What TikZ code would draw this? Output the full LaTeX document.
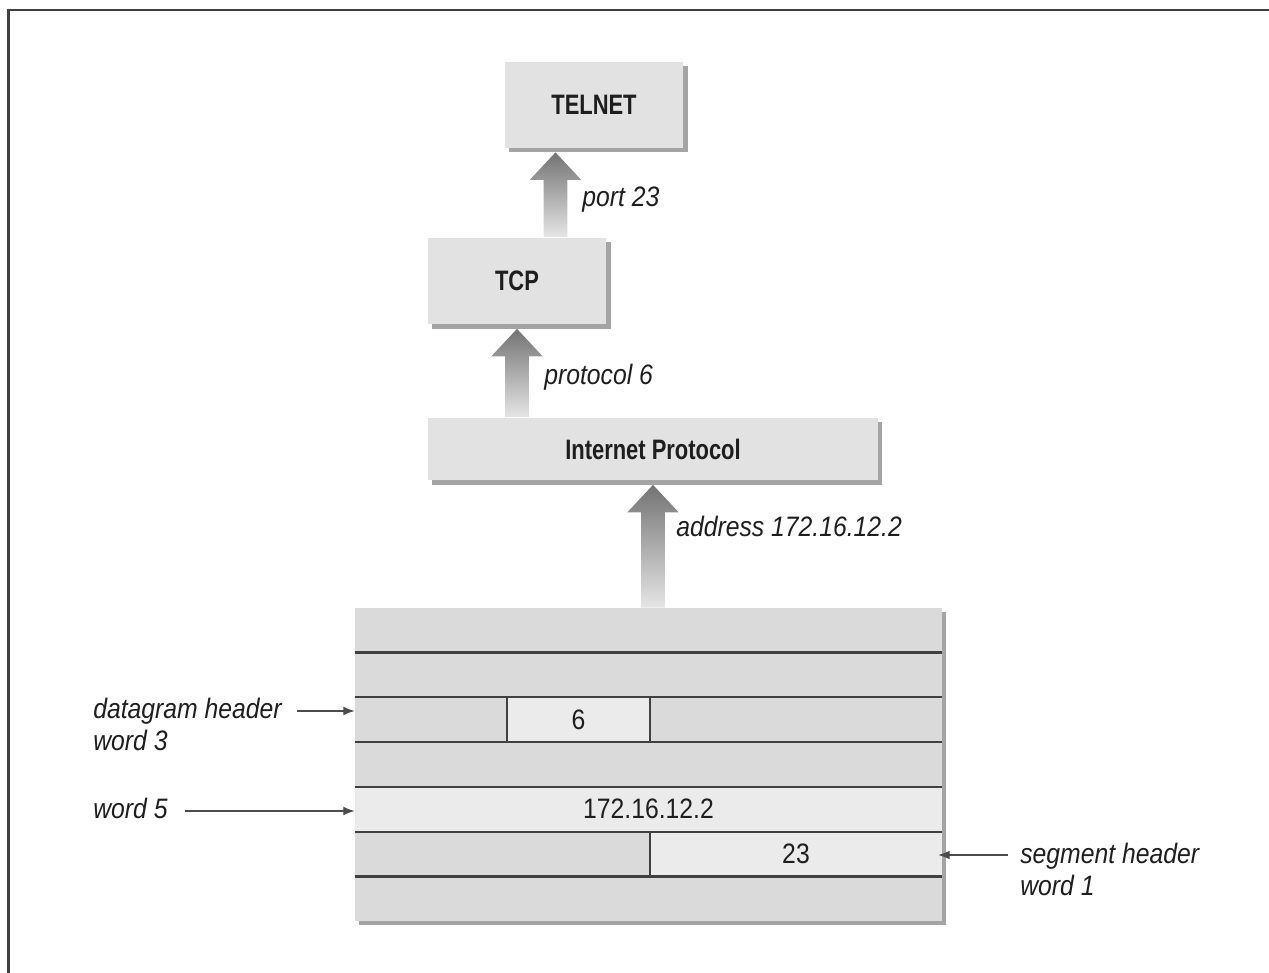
\documentclass[tikz,border=0pt]{standalone}
\usepackage{fontspec}
\setmainfont{Liberation Sans}
\newfontfamily\titlefont{Liberation Sans}[FakeStretch=0.78]
\newfontfamily\notefont{Liberation Sans}[FakeStretch=0.88]
\newfontfamily\cellfont{Liberation Sans}[FakeStretch=0.88]
\usetikzlibrary{calc,shadows,arrows.meta}
\definecolor{boxgray}{HTML}{E2E2E2}
\definecolor{rowgray}{HTML}{DADADA}
\definecolor{cellgray}{HTML}{EBEBEB}
\definecolor{shadowgray}{HTML}{A4A4A4}
\definecolor{inkgray}{HTML}{1E1E1E}
\tikzset{
  layer/.style={fill=boxgray, text=inkgray, inner sep=0pt,
    general shadow={fill=shadowgray, shadow xshift=2.3pt, shadow yshift=-2.3pt},
    font=\titlefont\bfseries\fontsize{16}{19}\selectfont},
  flow/.style={top color=black!55, bottom color=black!10},
  note/.style={text=inkgray, inner sep=0pt, align=left,
    font=\notefont\itshape\fontsize{16}{18.3}\selectfont},
  cell/.style={fill=cellgray, inner sep=0pt, text=inkgray,
    font=\cellfont\fontsize{16}{19}\selectfont},
  rowline/.style={line width=1.2pt, black!75},
  ptr/.style={line width=0.6pt, black!70, -{Latex[length=6.5pt,width=5pt]}},
  frame/.style={line width=1.7pt, black!75}
}
\newcommand\flowup[2]{%
  \shade[flow] let \p1=(#1), \p2=(#2), \p3=($(#1)!0.5!(#2)$) in
    (\x3-6.8pt,\y1) -- (\x3-6.8pt,\y2-18pt) -- (\x3-14.7pt,\y2-18pt) -- (\x3,\y2-2.3pt)
    -- (\x3+14.7pt,\y2-18pt) -- (\x3+6.8pt,\y2-18pt) -- (\x3+6.8pt,\y1) -- cycle;}
\begin{document}
\begin{tikzpicture}[x=0.02cm,y=-0.02cm]
  \useasboundingbox (0,0) rectangle (1269,973);
  \draw[frame] (8.5,973) -- (8.5,10) -- (1269,10);

  \node[layer, minimum width=3.58cm, minimum height=1.72cm] (telnet) at (594,105) {TELNET};
  \node[layer, minimum width=3.58cm, minimum height=1.74cm] (tcp) at (517,281) {TCP};
  \node[layer, minimum width=9.0cm, minimum height=1.26cm] (ip) at (653,449) {Internet Protocol};

  \node[fill=rowgray, inner sep=0pt, minimum width=11.74cm, minimum height=6.26cm,
    general shadow={fill=shadowgray, shadow xshift=2.3pt, shadow yshift=-2.3pt}] (dgram) at (648.5,764.5) {};
  \node[cell, minimum width=2.86cm, minimum height=0.894cm] (proto-cell) at (578.5,719.8) {6};
  \node[cell, minimum width=11.74cm, minimum height=0.894cm] (addr-cell) at (648.5,809.2) {172.16.12.2};
  \node[cell, minimum width=5.84cm, minimum height=0.894cm] (port-cell) at (796,853.9) {23};
  \foreach \r in {1,...,6}
    \draw[rowline] ($(dgram.north west)!\r/7!(dgram.south west)$) -- ($(dgram.north east)!\r/7!(dgram.south east)$);
  \draw[rowline] (proto-cell.north west) -- (proto-cell.south west);
  \draw[rowline] (proto-cell.north east) -- (proto-cell.south east);
  \draw[rowline] (port-cell.north west) -- (port-cell.south west);

  \flowup{tcp.north}{telnet.south}
  \flowup{ip.north -| tcp.south}{tcp.south}
  \flowup{dgram.north -| ip.south}{ip.south}

  \node[note, anchor=base west] (port-lbl) at (582,207) {port 23};
  \node[note, anchor=base west] (proto-lbl) at (544,385) {protocol 6};
  \node[note, anchor=base west] (addr-lbl) at (676,537) {address 172.16.12.2};

  \node[note, anchor=north west] (dgh-lbl) at (93,697.5) {datagram header\\word 3};
  \node[note, anchor=base west] (w5-lbl) at (93,818) {word 5};
  \node[note, anchor=north west] (sgh-lbl) at (1020,843) {segment header\\word 1};

  \coordinate (dgh-from) at (297,711);
  \coordinate (w5-from) at (185,811);
  \coordinate (sgh-from) at (1008,855);
  \draw[ptr] (dgh-from) -- (dgh-from -| dgram.west);
  \draw[ptr] (w5-from) -- (w5-from -| dgram.west);
  \draw[ptr, shorten >=-2.3pt] (sgh-from) -- (sgh-from -| dgram.east);
\end{tikzpicture}
\end{document}
